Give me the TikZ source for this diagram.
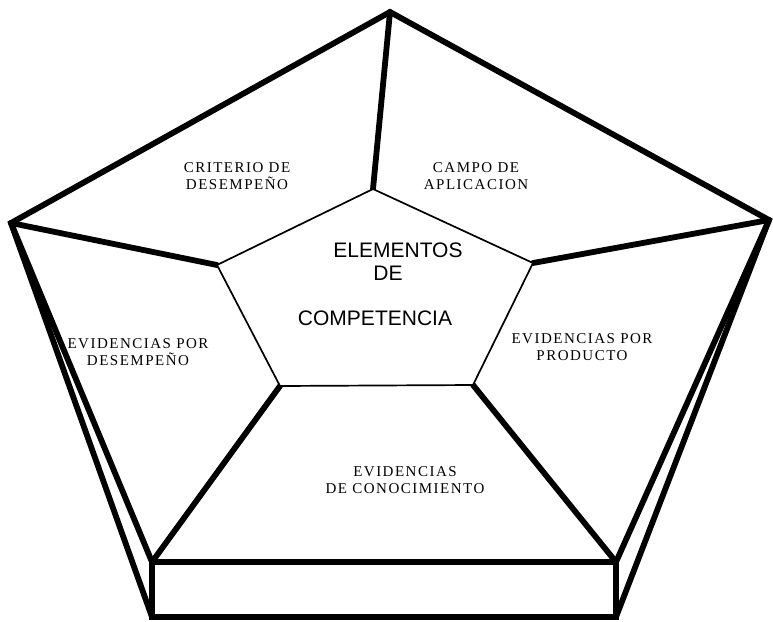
\documentclass[tikz,border=0pt]{standalone}
\usepackage{fontspec}
\setmainfont{Liberation Serif}[LetterSpace=10]
\newfontfamily\hubfont{Liberation Sans}
\usetikzlibrary{positioning}

\begin{document}
\begin{tikzpicture}[x=1pt,y=-1pt,
  every node/.style={font=\fontsize{15}{17.5}\selectfont, align=center, inner sep=0pt},
  hubtext/.style={font=\hubfont\fontsize{21}{24}\selectfont},
  heavy/.style={line width=5.8pt, line join=miter, line cap=round},
  light/.style={line width=1.7pt, line join=miter}]
  \useasboundingbox (0,0) rectangle (773,621);
  % outer pentagon and base
  \coordinate (otop) at (390,12);
  \coordinate (oleft) at (11,223);
  \coordinate (oright) at (769,220);
  \coordinate (obl) at (152,562);
  \coordinate (obr) at (616,562);
  \coordinate (bbl) at (152,617);
  \coordinate (bbr) at (616,617);
  % inner pentagon
  \coordinate (itop) at (373,189);
  \coordinate (ileft) at (217,265);
  \coordinate (iright) at (533,263);
  \coordinate (ibl) at (280,386);
  \coordinate (ibr) at (473,385);

  \draw[heavy] (obl) -- (oleft) -- (otop) -- (oright) -- (obr);
  \draw[heavy] (oleft) -- (bbl);
  \draw[heavy] (oright) -- (bbr);
  \draw[heavy] (obl) rectangle (bbr);
  \draw[heavy] (itop) -- (otop);
  \draw[heavy] (ileft) -- (oleft);
  \draw[heavy] (iright) -- (oright);
  \draw[heavy] (ibl) -- (obl);
  \draw[heavy] (ibr) -- (obr);
  \draw[light,fill=white] (itop) -- (iright) -- (ibr) -- (ibl) -- (ileft) -- cycle;

  % labels
  \node (elem) at (398,250) [hubtext] {ELEMENTOS};
  \node (de) at (388,273) [hubtext] {DE};
  \node (comp) at (375,318) [hubtext] {COMPETENCIA};
  \node (crit) at (237,176) {CRITERIO DE\\DESEMPEÑO};
  \node (campo) at (476,176) {CAMPO DE\\APLICACION};
  \node (evdes) at (138,352) {EVIDENCIAS POR\\DESEMPEÑO};
  \node (evprod) at (582,347) {EVIDENCIAS POR\\PRODUCTO};
  \node (evcon) at (405,480) {EVIDENCIAS\\DE CONOCIMIENTO};
\end{tikzpicture}
\end{document}
